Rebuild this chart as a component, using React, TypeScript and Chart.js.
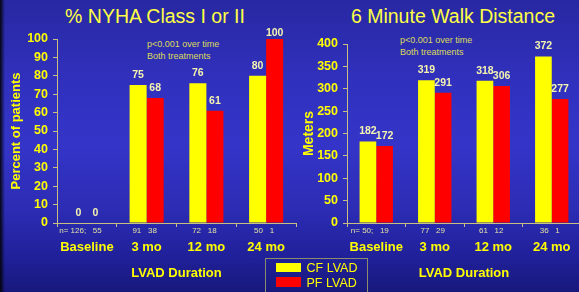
import React, { useEffect, useRef } from "react";
import { Chart, registerables } from "chart.js";

Chart.register(...registerables);

const categories = ["Baseline", "3 mo", "12 mo", "24 mo"];
const nyhaCF = [0, 75, 76, 80];
const nyhaPF = [0, 68, 61, 100];
const nyhaN = ["n= 126;   55    ", "91   38", "72   18", "50   1"];
const walkCF = [182, 319, 318, 372];
const walkPF = [172, 291, 306, 277];
const walkN = ["n= 50;   19    ", "77   29", "61   12", "36   1"];
const seriesNames = ["CF LVAD", "PF LVAD"];
const noteLines = ["p<0.001 over time", "Both treatments"];

const SANS = '"Liberation Sans", Arial, sans-serif';
const YELLOW = "#ffff00";
const AXIS = "#c8c080";
const VALUE = "#f4f4b0";
const NCOLOR = "#e2e2a4";

const valueLabels = {
  id: "valueLabels",
  afterDatasetsDraw(chart: any) {
    const ctx = chart.ctx;
    ctx.save();
    ctx.font = `bold 10.5px ${SANS}`;
    ctx.fillStyle = VALUE;
    ctx.textAlign = "center";
    ctx.textBaseline = "middle";
    chart.data.datasets.forEach((ds: any, i: number) => {
      const meta = chart.getDatasetMeta(i);
      meta.data.forEach((el: any, j: number) => {
        const y = Math.max(el.y - 10, chart.chartArea.top - 6);
        ctx.fillText(String(ds.data[j]), el.x, y);
      });
    });
    ctx.restore();
  },
};

function makeConfig(
  cf: number[],
  pf: number[],
  nLabels: string[],
  yMax: number,
  yStep: number,
  yTitle: string,
  yTitleSize: number,
  yTitlePad: number,
  yWidth: number,
  padding: any
): any {
  return {
    type: "bar",
    data: {
      labels: nLabels,
      datasets: [
        { label: seriesNames[0], data: cf, backgroundColor: YELLOW, borderWidth: 0 },
        { label: seriesNames[1], data: pf, backgroundColor: "#ff0000", borderWidth: 0 },
      ],
    },
    options: {
      responsive: false,
      animation: false,
      devicePixelRatio: 1,
      layout: { padding },
      datasets: { bar: { categoryPercentage: 0.57, barPercentage: 1 } },
      plugins: { legend: { display: false }, tooltip: { enabled: false }, title: { display: false } },
      scales: {
        y: {
          min: 0,
          max: yMax,
          ticks: {
            stepSize: yStep,
            autoSkip: false,
            color: YELLOW,
            font: { family: SANS, size: 12.5, weight: "bold" },
            padding: 5,
          },
          grid: { drawOnChartArea: false, drawTicks: true, tickLength: 4, color: AXIS },
          border: { display: true, color: AXIS },
          title: {
            display: true,
            text: yTitle,
            color: YELLOW,
            font: { family: SANS, size: yTitleSize, weight: "bold" },
            padding: { top: yTitlePad, bottom: 0 },
          },
          afterFit: (s: any) => {
            s.width = yWidth;
          },
        },
        x: {
          position: "bottom",
          weight: 0,
          ticks: {
            color: NCOLOR,
            font: { family: SANS, size: 8, lineHeight: 1 },
            padding: 0,
            labelOffset: -2,
            maxRotation: 0,
            autoSkip: false,
          },
          grid: { drawOnChartArea: false, drawTicks: true, tickLength: 4, color: AXIS, offset: true },
          border: { display: true, color: AXIS },
          afterFit: (s: any) => {
            s.height = 14;
          },
        },
        x2: {
          type: "category",
          position: "bottom",
          weight: 1,
          labels: categories,
          offset: true,
          ticks: {
            color: YELLOW,
            font: { family: SANS, size: 13, weight: "bold" },
            padding: 3,
            maxRotation: 0,
            autoSkip: false,
          },
          grid: { display: false, drawTicks: false },
          border: { display: false },
          title: {
            display: true,
            text: "LVAD Duration",
            color: YELLOW,
            font: { family: SANS, size: 13, weight: "bold" },
            padding: { top: 0, bottom: 11 },
          },
          afterFit: (s: any) => {
            s.height = 55;
          },
        },
      },
    },
    plugins: [valueLabels],
  };
}

function BarCanvas({ config, width, height }: { config: any; width: number; height: number }) {
  const ref = useRef<HTMLCanvasElement | null>(null);
  useEffect(() => {
    if (!ref.current) return;
    const chart = new Chart(ref.current, config);
    return () => chart.destroy();
  }, [config]);
  return (
    <canvas
      ref={ref}
      width={width}
      height={height}
      style={{ position: "absolute", left: 0, top: 0, width, height }}
    />
  );
}

const leftConfig = makeConfig(nyhaCF, nyhaPF, nyhaN, 100, 10, "Percent of patients", 13, 9, 57, {
  left: 0,
  right: 283,
  top: 39,
  bottom: 0,
});
const rightConfig = makeConfig(walkCF, walkPF, walkN, 400, 50, "Meters", 14, 12, 58, {
  left: 289,
  right: 19,
  top: 44,
  bottom: 0,
});

const titleStyle = (cx: number): React.CSSProperties => ({
  position: "absolute",
  left: cx - 150,
  top: 6,
  width: 300,
  textAlign: "center",
  font: `19.5px ${SANS}`,
  lineHeight: "20px",
  color: "#ffff44",
  whiteSpace: "nowrap",
});

const noteStyle = (x: number, y: number): React.CSSProperties => ({
  position: "absolute",
  left: x,
  top: y,
  font: `9px ${SANS}`,
  lineHeight: "12.4px",
  color: "#dcdc58",
  whiteSpace: "nowrap",
});

export default function App() {
  return (
    <div
      style={{
        position: "fixed",
        left: 0,
        top: 0,
        width: 579,
        height: 292,
        overflow: "hidden",
        background:
          "linear-gradient(to bottom, #2828a2 0%, #3131c0 30%, #3434c8 50%, #2c2cb4 72%, #20209a 88%, #18187c 100%)",
      }}
    >
      <div
        style={{
          position: "absolute",
          left: 0,
          top: 0,
          width: 5,
          height: 292,
          background: "linear-gradient(to right, rgba(0,0,0,0.9), rgba(0,0,0,0))",
        }}
      />
      <div style={titleStyle(155)}>% NYHA Class I or II</div>
      <div style={titleStyle(453)}>6 Minute Walk Distance</div>
      <div style={noteStyle(147, 38)}>
        {noteLines[0]}
        <br />
        {noteLines[1]}
      </div>
      <div style={noteStyle(400, 34)}>
        {noteLines[0]}
        <br />
        {noteLines[1]}
      </div>
      <BarCanvas config={leftConfig} width={579} height={292} />
      <BarCanvas config={rightConfig} width={600} height={292} />
      <div
        style={{
          position: "absolute",
          left: 265,
          top: 258,
          width: 103,
          height: 40,
          border: "1px solid #8c8c6c",
          boxSizing: "border-box",
        }}
      />
      <div style={{ position: "absolute", left: 276, top: 263, width: 25, height: 9, background: YELLOW }} />
      <div style={{ position: "absolute", left: 276, top: 277, width: 25, height: 10, background: "#ff0000" }} />
      <div
        style={{
          position: "absolute",
          left: 306.5,
          top: 261.5,
          font: `12.5px ${SANS}`,
          lineHeight: "13px",
          color: YELLOW,
          whiteSpace: "nowrap",
        }}
      >
        {seriesNames[0]}
      </div>
      <div
        style={{
          position: "absolute",
          left: 306.5,
          top: 276.5,
          font: `12.5px ${SANS}`,
          lineHeight: "13px",
          color: YELLOW,
          whiteSpace: "nowrap",
        }}
      >
        {seriesNames[1]}
      </div>
    </div>
  );
}
